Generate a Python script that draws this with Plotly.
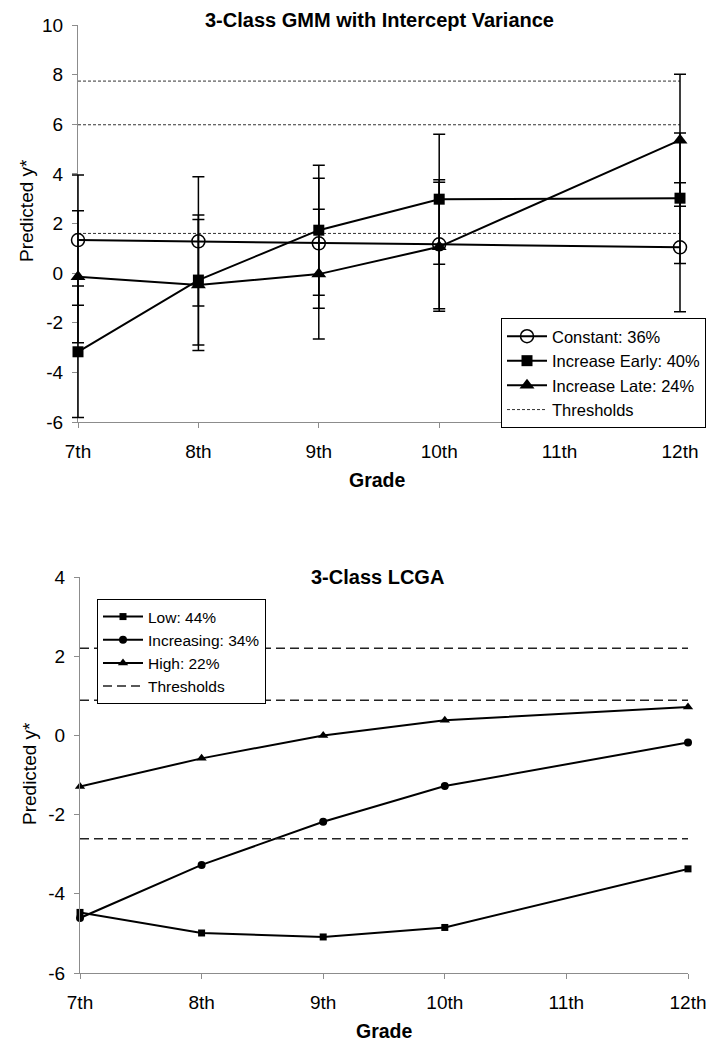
import plotly.graph_objects as go

# ---------------- data ----------------
grade_ticks = [7, 8, 9, 10, 11, 12]
grade_labels = ["7th", "8th", "9th", "10th", "11th", "12th"]
grades = [7, 8, 9, 10, 12]

gmm_yticks = [-6, -4, -2, 0, 2, 4, 6, 8, 10]
gmm_ylabels = ["-6", "-4", "-2", "0", "2", "4", "6", "8", "10"]
lcga_yticks = [-6, -4, -2, 0, 2, 4]
lcga_ylabels = ["-6", "-4", "-2", "0", "2", "4"]

gmm_constant = [1.33, 1.28, 1.20, 1.16, 1.04]
gmm_constant_err = [2.62, 2.60, 2.62, 2.60, 2.60]
gmm_early = [-3.17, -0.28, 1.73, 2.98, 3.02]
gmm_early_err = [2.65, 2.62, 2.62, 2.62, 2.63]
gmm_late = [-0.15, -0.48, -0.04, 1.06, 5.36]
gmm_late_err = [2.66, 2.64, 2.61, 2.60, 2.66]
gmm_thresholds = [1.60, 5.98, 7.74]

lcga_low = [-4.47, -4.99, -5.09, -4.85, -3.37]
lcga_increasing = [-4.61, -3.27, -2.18, -1.28, -0.18]
lcga_high = [-1.29, -0.58, 0.00, 0.38, 0.72]
lcga_thresholds = [-2.61, 0.89, 2.20]

FONT = "Liberation Sans, Arial, sans-serif"
W, H = 714, 1050


def px_x(p):
    return p / W


def px_y(p):
    return 1 - p / H


def thresh_xy(vals):
    xs, ys = [], []
    for v in vals:
        xs += [grades[0], grades[-1], None]
        ys += [v, v, None]
    return xs, ys


# top panel pixel frame, plus an invisible twin frame padded sideways so the
# error-bar caps at the first/last grade are not clipped
TOP_L, TOP_R, TOP_T, TOP_B = 78, 680, 25, 422
PAD = 14
unit = (TOP_R - TOP_L) / (grade_ticks[-1] - grade_ticks[0])

fig = go.Figure()

# ---------- top panel ----------
tx, ty = thresh_xy(gmm_thresholds)
err_style = dict(type="data", visible=True, color="black", thickness=1.5, width=6)

fig.add_trace(go.Scatter(
    x=grades, y=gmm_constant, name="Constant: 36%", mode="lines+markers",
    line=dict(color="black", width=2),
    marker=dict(symbol="circle-open", size=13, color="black", line=dict(width=1.5)),
    error_y=dict(array=gmm_constant_err, **err_style),
    cliponaxis=False, xaxis="x3", yaxis="y3", legend="legend"))
fig.add_trace(go.Scatter(
    x=grades, y=gmm_early, name="Increase Early: 40%", mode="lines+markers",
    line=dict(color="black", width=2),
    marker=dict(symbol="square", size=11, color="black"),
    error_y=dict(array=gmm_early_err, **err_style),
    cliponaxis=False, xaxis="x3", yaxis="y3", legend="legend"))
fig.add_trace(go.Scatter(
    x=grades, y=gmm_late, name="Increase Late: 24%", mode="lines+markers",
    line=dict(color="black", width=2),
    marker=dict(symbol="triangle-up", size=13, color="black"),
    error_y=dict(array=gmm_late_err, **err_style),
    cliponaxis=False, xaxis="x3", yaxis="y3", legend="legend"))
fig.add_trace(go.Scatter(
    x=tx, y=ty, name="Thresholds", mode="lines",
    line=dict(color="#333333", width=1, dash="3px,2px"),
    xaxis="x", yaxis="y", legend="legend"))

# ---------- bottom panel ----------
bx, by = thresh_xy(lcga_thresholds)
fig.add_trace(go.Scatter(
    x=grades, y=lcga_low, name="Low: 44%", mode="lines+markers",
    line=dict(color="black", width=2),
    marker=dict(symbol="square", size=7, color="black"),
    cliponaxis=False, xaxis="x2", yaxis="y2", legend="legend2"))
fig.add_trace(go.Scatter(
    x=grades, y=lcga_increasing, name="Increasing: 34%", mode="lines+markers",
    line=dict(color="black", width=2),
    marker=dict(symbol="circle", size=8, color="black"),
    cliponaxis=False, xaxis="x2", yaxis="y2", legend="legend2"))
fig.add_trace(go.Scatter(
    x=grades, y=lcga_high, name="High: 22%", mode="lines+markers",
    line=dict(color="black", width=2),
    marker=dict(symbol="triangle-up", size=9, color="black"),
    cliponaxis=False, xaxis="x2", yaxis="y2", legend="legend2"))
fig.add_trace(go.Scatter(
    x=bx, y=by, name="Thresholds", mode="lines",
    line=dict(color="#222222", width=1.5, dash="9px,5px"),
    xaxis="x2", yaxis="y2", legend="legend2"))

axis_common = dict(
    showline=True, linecolor="#8c8c8c", linewidth=1, showgrid=False, zeroline=False,
    ticks="outside", ticklen=5, tickcolor="#8c8c8c", automargin=False,
    tickfont=dict(family=FONT, size=19, color="black"),
)

fig.update_layout(
    width=W, height=H,
    margin=dict(l=0, r=0, t=0, b=0),
    paper_bgcolor="white", plot_bgcolor="rgba(0,0,0,0)",
    font=dict(family=FONT, color="black"),
    xaxis=dict(domain=[px_x(TOP_L), px_x(TOP_R)], range=[7, 12], anchor="y",
               tickvals=grade_ticks, ticktext=grade_labels, ticklabelstandoff=7,
               **axis_common),
    yaxis=dict(domain=[px_y(TOP_B), px_y(TOP_T)], range=[-6, 10], anchor="x",
               tickvals=gmm_yticks, ticktext=gmm_ylabels, ticklabelstandoff=5,
               **axis_common),
    xaxis3=dict(domain=[px_x(TOP_L - PAD), px_x(TOP_R + PAD)],
                range=[7 - PAD / unit, 12 + PAD / unit], anchor="y3",
                visible=False, automargin=False),
    yaxis3=dict(domain=[px_y(TOP_B), px_y(TOP_T)], range=[-6, 10], anchor="x3",
                visible=False, automargin=False),
    xaxis2=dict(domain=[px_x(80), px_x(688)], range=[7, 12], anchor="y2",
                tickvals=grade_ticks, ticktext=grade_labels, ticklabelstandoff=7,
                **axis_common),
    yaxis2=dict(domain=[px_y(973), px_y(577)], range=[-6, 4], anchor="x2",
                tickvals=lcga_yticks, ticktext=lcga_ylabels, ticklabelstandoff=5,
                **axis_common),
    legend=dict(x=px_x(501), y=px_y(318), xanchor="left", yanchor="top",
                bordercolor="black", borderwidth=1, bgcolor="white", itemwidth=40,
                font=dict(family=FONT, size=16.5), tracegroupgap=0),
    legend2=dict(x=px_x(97), y=px_y(599), xanchor="left", yanchor="top",
                 bordercolor="black", borderwidth=1, bgcolor="white", itemwidth=40,
                 font=dict(family=FONT, size=15.5), tracegroupgap=0),
    showlegend=True,
    annotations=[
        dict(text="<b>3-Class GMM with Intercept Variance</b>", x=px_x(379), y=px_y(20),
             xref="paper", yref="paper", showarrow=False, xanchor="center", yanchor="middle",
             font=dict(family=FONT, size=20)),
        dict(text="<b>3-Class LCGA</b>", x=px_x(377), y=px_y(577), xref="paper", yref="paper",
             showarrow=False, xanchor="center", yanchor="middle",
             font=dict(family=FONT, size=20)),
        dict(text="<b>Grade</b>", x=px_x(377), y=px_y(480), xref="paper", yref="paper",
             showarrow=False, xanchor="center", yanchor="middle",
             font=dict(family=FONT, size=19.5)),
        dict(text="<b>Grade</b>", x=px_x(384), y=px_y(1031), xref="paper", yref="paper",
             showarrow=False, xanchor="center", yanchor="middle",
             font=dict(family=FONT, size=19.5)),
        dict(text="Predicted y*", x=px_x(27), y=px_y(210), xref="paper", yref="paper",
             showarrow=False, xanchor="center", yanchor="middle", textangle=-90,
             font=dict(family=FONT, size=19)),
        dict(text="Predicted y*", x=px_x(29), y=px_y(774), xref="paper", yref="paper",
             showarrow=False, xanchor="center", yanchor="middle", textangle=-90,
             font=dict(family=FONT, size=19)),
    ],
)

fig.write_html("out.html", config={"displayModeBar": False},
               post_script="document.body.style.margin='0';")
